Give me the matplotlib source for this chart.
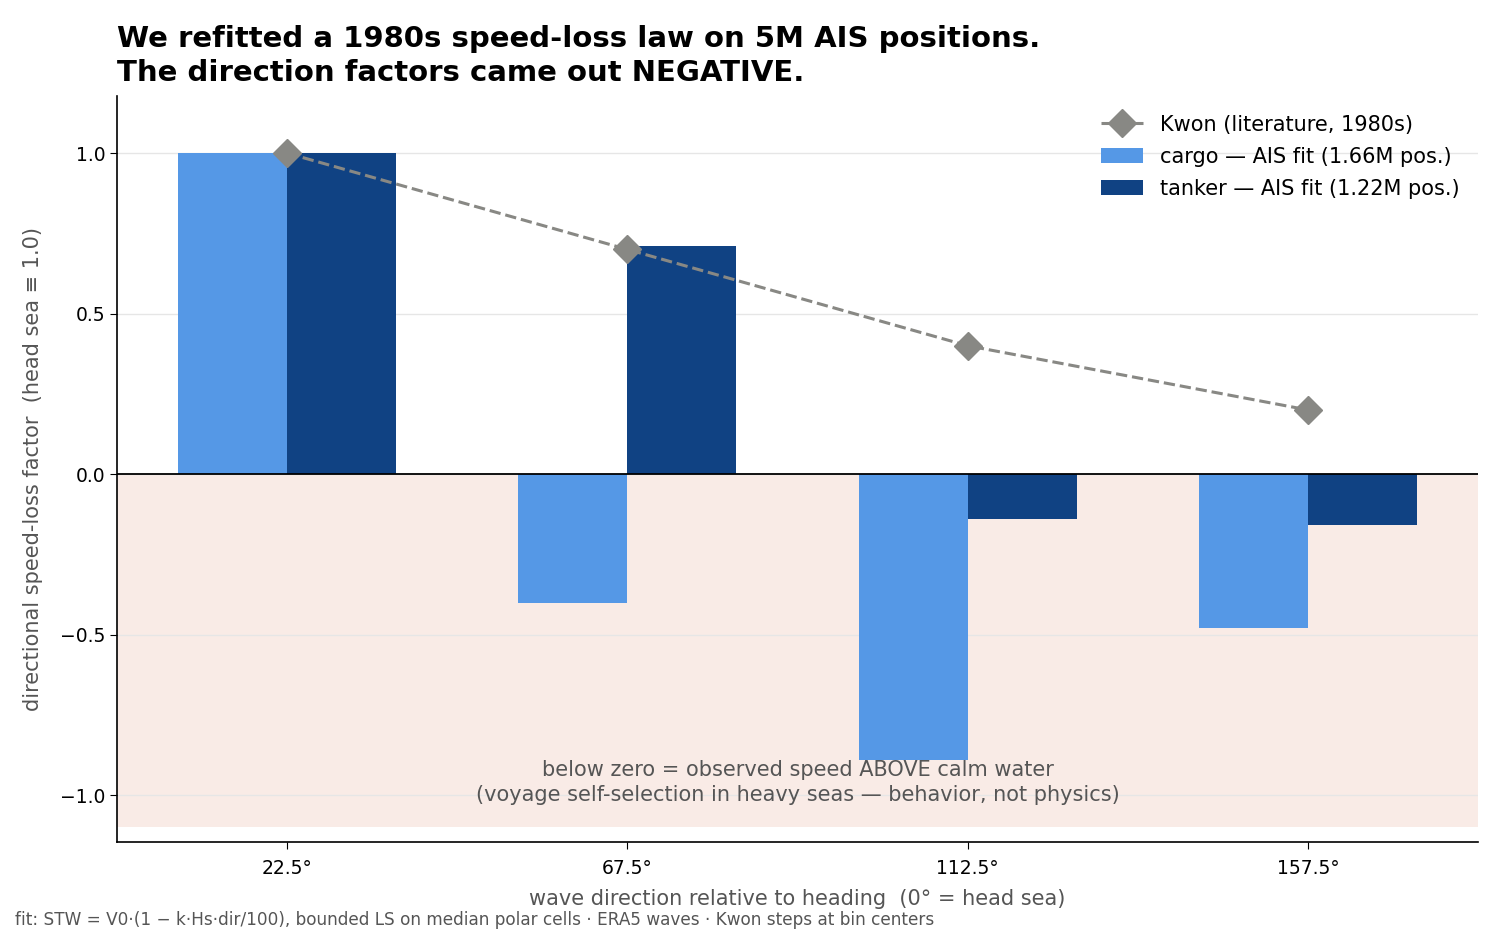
import matplotlib
matplotlib.use("Agg")
import matplotlib.pyplot as plt
import numpy as np

categories = ["22.5°", "67.5°", "112.5°", "157.5°"]
cargo = [1.0, -0.40, -0.89, -0.48]
tanker = [1.0, 0.71, -0.14, -0.16]
kwon = [1.0, 0.7, 0.4, 0.2]

plt.rcParams['font.family'] = ['DejaVu Sans']
fig = plt.figure(figsize=(15, 9.3), dpi=100)
ax = fig.add_axes([117/1500, 1 - 842/930, (1478-117)/1500, (842-96)/930])

x = np.arange(len(categories))
w = 0.32
ax.axhspan(-1.10, 0, color="#f9ebe6", zorder=0, lw=0)
ax.bar(x - w/2, cargo, w, color="#5598e6", label="cargo — AIS fit (1.66M pos.)", zorder=2)
ax.bar(x + w/2, tanker, w, color="#104283", label="tanker — AIS fit (1.22M pos.)", zorder=2)
ax.plot(x, kwon, color="#888884", ls="--", lw=2.2, marker="D", ms=14,
        label="Kwon (literature, 1980s)", zorder=3)
ax.axhline(0, color="black", lw=1.3, zorder=2.5)

ax.set_xlim(-0.5, 3.5)
ax.set_ylim(-1.146, 1.178)
ax.set_yticks([-1.0, -0.5, 0.0, 0.5, 1.0])
ax.set_xticks(x)
ax.set_xticklabels(categories)
ax.tick_params(labelsize=13.5, length=5)
ax.tick_params(axis="x", pad=7)
ax.grid(axis="y", color="#e6e6e6", lw=1, zorder=1)
ax.set_axisbelow(True)
for s in ["top", "right"]:
    ax.spines[s].set_visible(False)
ax.spines["left"].set_linewidth(1.2)
ax.spines["bottom"].set_linewidth(1.2)

ax.set_xlabel("wave direction relative to heading  (0° = head sea)", fontsize=15, color="#555555", labelpad=8)
ax.set_ylabel("directional speed-loss factor  (head sea ≡ 1.0)", fontsize=15, color="#555555", labelpad=12)

ax.text(1.5, -0.96, "below zero = observed speed ABOVE calm water\n(voyage self-selection in heavy seas — behavior, not physics)",
        ha="center", va="center", fontsize=15, color="#555555", linespacing=1.32)

ax.legend(loc="upper right", frameon=False, fontsize=15, handlelength=2.0,
          labelspacing=0.58, bbox_to_anchor=(1.0, 1.0))

fig.text(117/1500, 1 - 56/930, "We refitted a 1980s speed-loss law on 5M AIS positions.\nThe direction factors came out NEGATIVE.",
         ha="left", va="center", fontsize=21, fontweight="bold", linespacing=1.3)
fig.text(15/1500, 1 - 920/930, "fit: STW = V0·(1 − k·Hs·dir/100), bounded LS on median polar cells · ERA5 waves · Kwon steps at bin centers",
         ha="left", va="center", fontsize=12.2, color="#555555")

fig.savefig("out.png", dpi=100)
